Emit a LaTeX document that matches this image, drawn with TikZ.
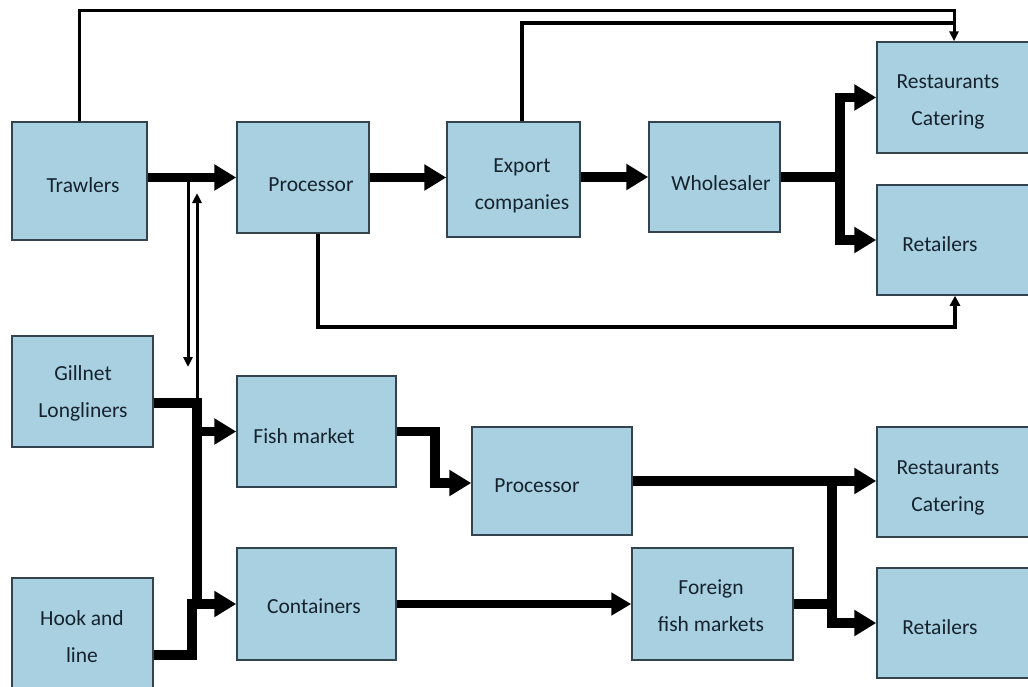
\documentclass[tikz,border=0pt]{standalone}
\usepackage{fontspec}
\setmainfont{Carlito}
\usetikzlibrary{arrows.meta,calc}
\definecolor{boxfill}{HTML}{A8D0E0}
\definecolor{boxline}{HTML}{34444F}
\definecolor{txt}{HTML}{16232F}
\begin{document}
\begin{tikzpicture}[x=1pt,y=-1pt,
  box/.style={draw=boxline, line width=1.5pt, fill=boxfill, inner sep=0pt},
  lbl/.style={text=txt, align=center, inner sep=0pt, font=\fontsize{21.5}{37}\selectfont},
  thkline/.style={line width=9.5pt, black},
  thk/.style={line width=9.5pt, black, -{Triangle[length=22pt,width=25pt]}},
  med/.style={line width=8pt, black, -{Triangle[length=20pt,width=22pt]}},
  thn/.style={line width=3pt, black, -{Triangle[length=10pt,width=9pt]}},
  thnline/.style={line width=3.2pt, black},
  mid/.style={line width=4.5pt, black, -{Triangle[length=10pt,width=10pt]}}]
\useasboundingbox (0,0) rectangle (1028,686);

% boxes
\node[box, minimum width=135pt, minimum height=118pt] (trawl) at (79.5,181) {};
\node[box, minimum width=132pt, minimum height=111pt] (proc1) at (303,177.5) {};
\node[box, minimum width=133pt, minimum height=115pt] (exp) at (513.5,179.5) {};
\node[box, minimum width=131pt, minimum height=110pt] (whole) at (714.5,177) {};
\node[box, minimum width=160pt, minimum height=111pt] (rest1) at (957,97.5) {};
\node[box, minimum width=160pt, minimum height=110pt] (ret1) at (957,240) {};
\node[box, minimum width=141pt, minimum height=111pt] (gill) at (82.5,391.5) {};
\node[box, minimum width=159pt, minimum height=111pt] (fish) at (316.5,431.5) {};
\node[box, minimum width=160pt, minimum height=108pt] (proc2) at (552,481) {};
\node[box, minimum width=159pt, minimum height=112pt] (cont) at (316.5,604) {};
\node[box, minimum width=141pt, minimum height=112pt] (hook) at (82.5,634) {};
\node[box, minimum width=161pt, minimum height=112pt] (foreign) at (712.5,604) {};
\node[box, minimum width=160pt, minimum height=110pt] (rest2) at (957,482) {};
\node[box, minimum width=160pt, minimum height=110pt] (ret2) at (957,623) {};

% labels
\node[lbl] (trawlt) at (83,185) {Trawlers};
\node[lbl] (proc1t) at (311,185) {Processor};
\node[lbl] (expt) at (522,186) {Export\\companies};
\node[lbl] (wholet) at (721,183) {Wholesaler};
\node[lbl] (rest1t) at (948,102) {Restaurants\\Catering};
\node[lbl] (ret1t) at (940,244) {Retailers};
\node[lbl] (gillt) at (83,393) {Gillnet\\Longliners};
\node[lbl] (fisht) at (304,436) {Fish market};
\node[lbl] (proc2t) at (537,486) {Processor};
\node[lbl] (contt) at (314,606) {Containers};
\node[lbl] (foreignt) at (711,606) {Foreign\\fish markets};
\node[lbl] (hookt) at (82,637) {Hook and\\line};
\node[lbl] (rest2t) at (948,488) {Restaurants\\Catering};
\node[lbl] (ret2t) at (940,627) {Retailers};

% coordinates
\coordinate (t1) at (954,10);
\coordinate (e1) at (522,23);
\coordinate (j1) at (954,23);
\coordinate (p1) at (318,327);
\coordinate (p2) at (955,327);
\coordinate (w1) at (840,177);
\coordinate (d1) at (188,178);
\coordinate (d2) at (188,367);
\coordinate (g1) at (197,403);
\coordinate (u1) at (197,193);
\coordinate (g2) at (197,603);
\coordinate (h1) at (192,655);
\coordinate (f1) at (435,483);
\coordinate (v1) at (832,481);

% top thin connectors
\draw[thn] (trawl.north) |- (t1) -- (t1 |- rest1.north);
\draw[thnline] (exp.north -| e1) -- (e1) -- (j1);
\draw[mid] (proc1.south -| p1) -- (p1) -- (p2) -- (p2 |- ret1.south);

% upper chain
\draw[thk] (trawl.east |- proc1.west) -- (proc1.west);
\draw[thk] (proc1.east) -- (exp.west |- proc1.east);
\draw[thk] (exp.east |- whole.west) -- (whole.west);
\draw[thkline] (whole.east) -- (w1);
\draw[thk] (w1) |- (rest1.west);
\draw[thk] (w1) |- (ret1.west);

% thin vertical arrows
\draw[thn] (d1) -- (d2);
\draw[thn] (g1) -- (u1);

% lower left
\draw[thkline] (gill.east |- g1) -- (g1) -- (g2);
\draw[thk] (g1 |- fish.west) -- (fish.west);
\draw[thkline] (hook.east |- h1) -- (h1) -- ($(h1 |- cont.west)+(0,-4.75)$);
\draw[thk] (h1 |- cont.west) -- (cont.west);

% lower chain
\draw[thk] (fish.east) -| (f1) -- (proc2.west |- f1);
\draw[thk] (proc2.east) -- (rest2.west |- proc2.east);
\draw[thk] (v1) |- (ret2.west);
\draw[thkline] (foreign.east) -- (v1 |- foreign.east);
\draw[med] (cont.east) -- (foreign.west);
\end{tikzpicture}
\end{document}
